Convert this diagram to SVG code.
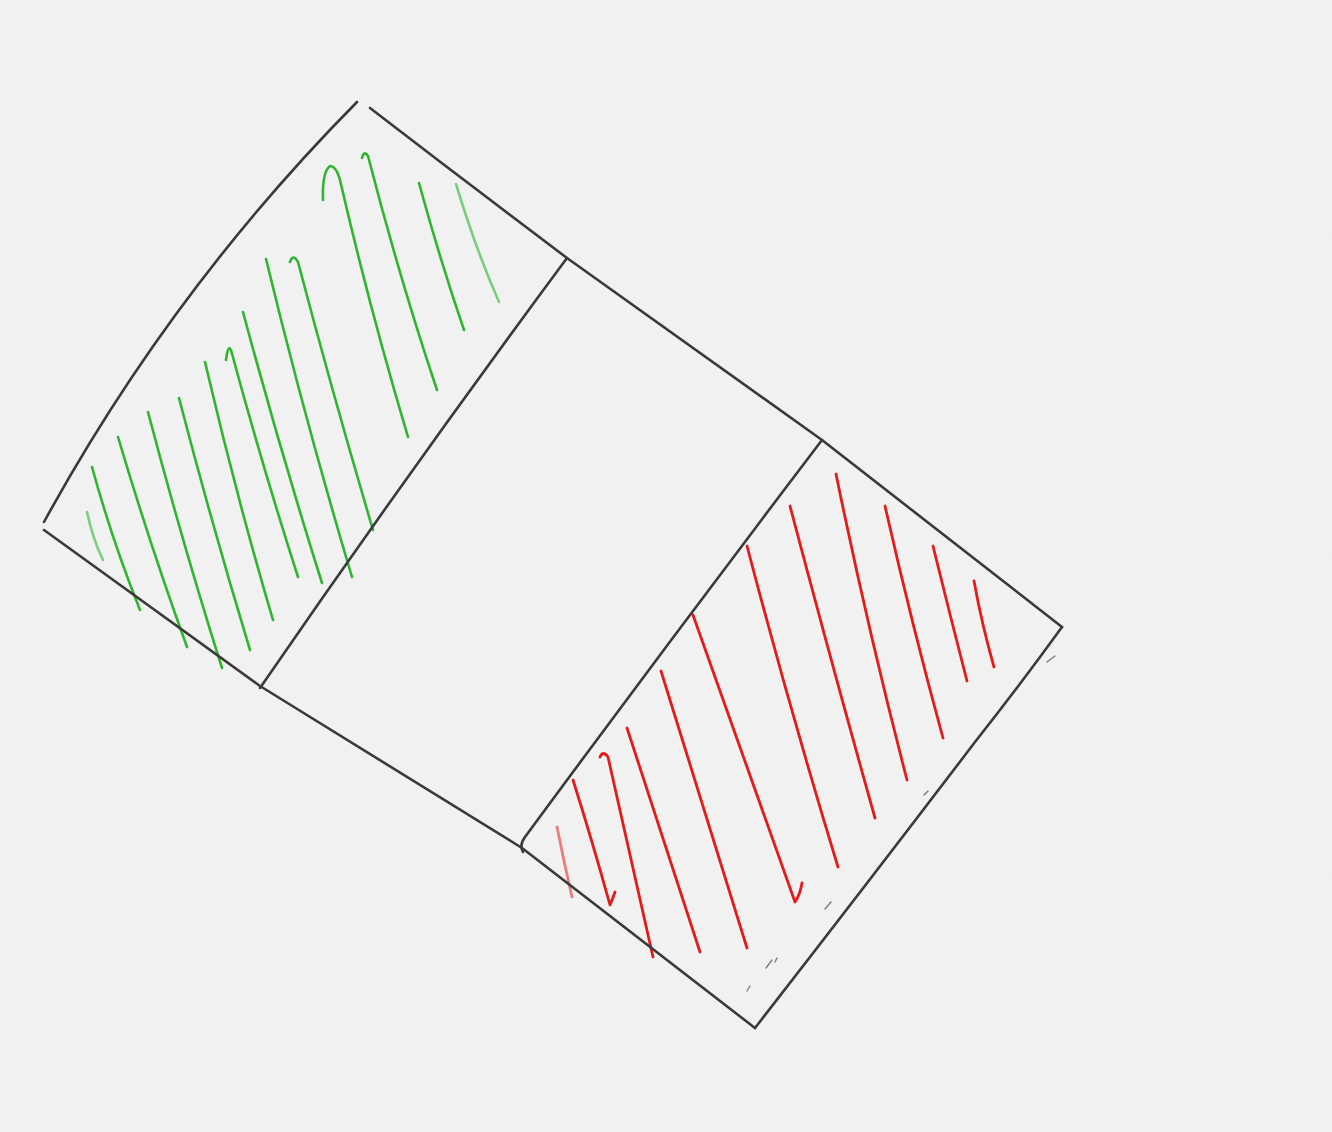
<svg xmlns="http://www.w3.org/2000/svg" width="1332" height="1132" viewBox="0 0 1332 1132">
  <defs>
    <filter id="paper" x="0" y="0" width="100%" height="100%">
      <feTurbulence type="fractalNoise" baseFrequency="0.8" numOctaves="3" seed="7" result="t"/>
      <feColorMatrix in="t" type="matrix" values="0 0 0 0 0.5  0 0 0 0 0.5  0 0 0 0 0.5  0 0 0 0.06 0"/>
    </filter>
  </defs>
  <style>
    .ink { fill: none; stroke: #3a3a3a; stroke-width: 2.6; stroke-linecap: round; stroke-linejoin: round; }
    .mark { fill: none; stroke: #4a4a4a; stroke-width: 1.4; stroke-linecap: round; opacity: 0.7; }
    .g { fill: none; stroke: #2fb52f; stroke-width: 2.6; stroke-linecap: round; stroke-linejoin: round; }
    .gf { opacity: 0.6; }
    .r { fill: none; stroke: #e31b1b; stroke-width: 2.8; stroke-linecap: round; stroke-linejoin: round; }
    .rf { opacity: 0.55; }
  </style>
  <rect width="1332" height="1132" fill="#f3f3f3"/>
  <rect width="1332" height="1132" filter="url(#paper)"/>

  <g id="green-hatch">
    <path class="g" d="M92 467 Q112 540 140 610"/>
    <path class="g gf" d="M87 512 Q93 540 103 560"/>
    <path class="g" d="M118 437 Q150 545 187 647"/>
    <path class="g" d="M148 412 Q183 545 222 668"/>
    <path class="g" d="M179 398 Q212 525 250 650"/>
    <path class="g" d="M205 362 Q236 495 273 620"/>
    <path class="g" d="M226 360 Q228 344 231 350 Q262 465 298 577"/>
    <path class="g" d="M243 312 Q280 450 322 583"/>
    <path class="g" d="M266 259 Q305 420 352 577"/>
    <path class="g" d="M290 262 Q293 253 298 262 Q333 395 373 530"/>
    <path class="g" d="M323 200 Q322 172 330 166 Q336 166 340 180 Q370 310 408 437"/>
    <path class="g" d="M362 158 Q364 150 368 156 Q400 280 437 390"/>
    <path class="g" d="M419 183 Q440 260 464 330"/>
    <path class="g gf" d="M456 184 Q476 250 499 302"/>
  </g>

  <g id="red-hatch">
    <path class="r rf" d="M557 827 Q564 862 572 897"/>
    <path class="r" d="M573 780 Q592 840 610 905 Q613 898 615 892"/>
    <path class="r" d="M600 757 Q603 750 608 757 Q630 855 653 957"/>
    <path class="r" d="M627 728 Q663 840 700 952"/>
    <path class="r" d="M661 671 Q704 810 747 948"/>
    <path class="r" d="M693 615 Q744 760 795 902 Q800 895 802 883"/>
    <path class="r" d="M747 546 Q790 710 838 867"/>
    <path class="r" d="M790 506 Q832 665 875 818"/>
    <path class="r" d="M836 474 Q868 630 907 780"/>
    <path class="r" d="M885 506 Q912 625 943 738"/>
    <path class="r" d="M933 546 Q950 615 967 681"/>
    <path class="r" d="M974 581 Q982 625 994 667"/>
  </g>

  <g id="outline">
    <path class="ink" d="M357 102 Q171 290 44 522"/>
    <path class="ink" d="M370 108 Q470 185 567 258 L822 440 L1062 627"/>
    <path class="ink" d="M44 530 L260 686 L522 848 L755 1028"/>
    <path class="ink" d="M1062 627 Q1020 685 975 742 Q870 880 755 1028"/>
  </g>

  <g id="dividers">
    <path class="ink" d="M567 258 Q410 470 260 688"/>
    <path class="ink" d="M822 440 Q670 640 525 837 Q519 845 523 852"/>
  </g>

  <g id="marks">
    <path class="mark" d="M1047 662 L1055 656"/>
    <path class="mark" d="M924 795 L928 791"/>
    <path class="mark" d="M825 909 L831 902"/>
    <path class="mark" d="M766 968 L772 960"/>
    <path class="mark" d="M775 962 L777 958"/>
    <path class="mark" d="M747 991 L750 986"/>
  </g>
</svg>
